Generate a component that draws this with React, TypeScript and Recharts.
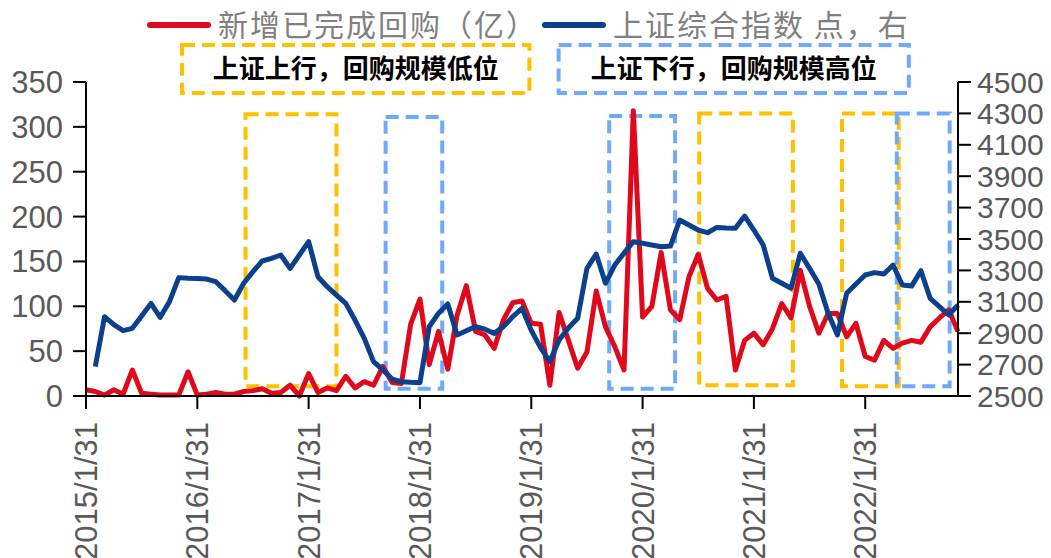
import React from 'react';
import { ComposedChart, Line, XAxis, YAxis, ReferenceArea, Legend } from 'recharts';

// ---- data ----
const tickIndex = [0, 12, 24, 36, 48, 60, 72, 84];
const tickLabels = ['2015/1/31', '2016/1/31', '2017/1/31', '2018/1/31', '2019/1/31', '2020/1/31', '2021/1/31', '2022/1/31'];

// 新增已完成回购（亿）, monthly from 2015/1
const buyback = [
  7, 5, 1, 7, 2, 29, 3, 2, 1, 1, 1, 27,
  1, 2, 4, 2, 2, 5, 6, 8, 3, 4, 12, 0,
  25, 4, 9, 6, 22, 9, 16, 12, 33, 15, 14, 80,
  108, 35, 72, 30, 90, 123, 72, 68, 53, 85, 104, 106,
  81, 80, 12, 93, 62, 31, 49, 117, 77, 55, 29, 318,
  88, 100, 160, 96, 85, 133, 158, 120, 107, 111, 29, 62,
  70, 57, 75, 103, 87, 140, 100, 70, 92, 92, 66, 81,
  44, 40, 62, 53, 59, 62, 60, 77, 87, 96, 72,
];

// 上证综合指数 点（右轴）
const shIndex: (number | null)[] = [
  null, 2687, 3005, 2954, 2916, 2931, 3010, 3090, 3001, 3101, 3254, 3250,
  3248, 3245, 3228, 3171, 3111, 3218, 3292, 3360, 3377, 3398, 3313, 3398,
  3483, 3260, 3196, 3143, 3090, 2984, 2867, 2719, 2666, 2608, 2591, 2587,
  2585, 2942, 3027, 3086, 2889, 2916, 2942, 2925, 2899, 2942, 3005, 3058,
  2918, 2808, 2719, 2857, 2933, 2995, 3313, 3404, 3218, 3334, 3410, 3483,
  3473, 3462, 3451, 3455, 3621, 3589, 3557, 3540, 3574, 3570, 3568, 3646,
  3557, 3462, 3250, 3218, 3186, 3409, 3313, 3213, 3027, 2889, 3154, 3213,
  3271, 3286, 3277, 3334, 3207, 3200, 3298, 3122, 3069, 3016, 3080,
];

const leftTicks = [0, 50, 100, 150, 200, 250, 300, 350];
const rightTicks = [2500, 2700, 2900, 3100, 3300, 3500, 3700, 3900, 4100, 4300, 4500];

const seriesNames = ['新增已完成回购（亿）', '上证综合指数 点，右'];
const annotationTexts = ['上证上行，回购规模低位', '上证下行，回购规模高位'];

const data = buyback.map((v, i) => ({ i, buyback: v, sh: shIndex[i] }));

// ---- styles ----
const RED = '#E0081B';
const BLUE = '#0C3F8C';
const YELLOW = '#FFC000';
const LBLUE = '#6FA9FC';
const AXIS_TEXT = '#595959';
const NUM_FONT = '"Liberation Sans", Arial, sans-serif';
const CJK_FONT = '"Noto Sans CJK SC", sans-serif';

// annotation boxes (in month-index / left-axis units)
const innerBoxes = [
  { x1: 17.2, x2: 27.0, y1: 11, y2: 314, color: YELLOW },
  { x1: 32.3, x2: 38.4, y1: 8, y2: 311, color: LBLUE },
  { x1: 56.4, x2: 63.5, y1: 8, y2: 312, color: LBLUE },
  { x1: 66.1, x2: 76.2, y1: 12, y2: 315, color: YELLOW },
  { x1: 81.5, x2: 87.6, y1: 11, y2: 315, color: YELLOW },
  { x1: 87.4, x2: 93.1, y1: 11, y2: 315, color: LBLUE },
];
const topBoxes = [
  { x1: 10.35, x2: 47.8, y1: 337.7, y2: 391.2, color: YELLOW, text: annotationTexts[0] },
  { x1: 50.95, x2: 88.7, y1: 337.7, y2: 391.2, color: LBLUE, text: annotationTexts[1] },
];

const XTick = (props: any) => {
  const { x, payload } = props;
  const label = tickLabels[tickIndex.indexOf(payload.value)];
  return (
    <text
      x={0}
      y={0}
      transform={`translate(${x},422) rotate(-90)`}
      textAnchor="end"
      dy="0.36em"
      fill={AXIS_TEXT}
      fontSize={31}
      fontFamily={NUM_FONT}
    >
      {label}
    </text>
  );
};

const AnnLabel = (props: any) => {
  const { viewBox, text } = props;
  if (!viewBox) return null;
  const cx = viewBox.x + viewBox.width / 2;
  const cy = viewBox.y + viewBox.height / 2;
  return (
    <text x={cx} y={cy} dy="0.36em" textAnchor="middle" fill="#000" fontSize={26} fontWeight={700} fontFamily={CJK_FONT}>
      {text}
    </text>
  );
};

const legendMarkerX = [150, 545];
const legendTextX = [218, 613];

const LegendContent = (props: any) => {
  const payload = [...(props.payload || [])].sort(
    (a: any, b: any) => seriesNames.indexOf(a.value) - seriesNames.indexOf(b.value)
  );
  return (
    <div style={{ position: 'relative', width: 1051, height: 50 }}>
      {payload.map((p: any, k: number) => (
        <React.Fragment key={k}>
          <svg style={{ position: 'absolute', left: legendMarkerX[k] - 3, top: 20 }} width={64} height={10}>
            <line x1={3} y1={5} x2={61} y2={5} stroke={p.color} strokeWidth={6} strokeLinecap="round" />
          </svg>
          <span
            style={{
              position: 'absolute',
              left: legendTextX[k],
              top: 6,
              lineHeight: '34px',
              fontSize: 30,
              letterSpacing: 2,
              fontFamily: CJK_FONT,
              color: '#808080',
              whiteSpace: 'nowrap',
            }}
          >
            {p.value}
          </span>
        </React.Fragment>
      ))}
    </div>
  );
};

export default function App() {
  return (
    <div style={{ position: 'absolute', left: 0, top: 0, width: 1051, height: 558, background: '#fff' }}>
      <ComposedChart width={1051} height={558} data={data} margin={{ top: 82, right: 0, bottom: 0, left: 0 }}>
        <XAxis
          dataKey="i"
          type="number"
          domain={[0, 94]}
          ticks={tickIndex}
          interval={0}
          height={162}
          tick={<XTick />}
          tickSize={13}
          axisLine={{ stroke: '#000', strokeWidth: 2 }}
          tickLine={{ stroke: '#000', strokeWidth: 2 }}
          allowDecimals={false}
        />
        <YAxis
          yAxisId="left"
          orientation="left"
          width={86}
          domain={[0, 350]}
          ticks={leftTicks}
          interval={0}
          tickSize={13}
          tickMargin={10}
          tick={{ fill: AXIS_TEXT, fontSize: 31, fontFamily: NUM_FONT }}
          axisLine={{ stroke: '#000', strokeWidth: 2 }}
          tickLine={{ stroke: '#000', strokeWidth: 2 }}
        />
        <YAxis
          yAxisId="right"
          orientation="right"
          width={93}
          domain={[2500, 4500]}
          ticks={rightTicks}
          interval={0}
          tickSize={13}
          tickMargin={6}
          tick={{ fill: AXIS_TEXT, fontSize: 30, fontFamily: NUM_FONT }}
          axisLine={{ stroke: '#000', strokeWidth: 2 }}
          tickLine={{ stroke: '#000', strokeWidth: 2 }}
        />
        <Legend
          verticalAlign="middle"
          align="center"
          layout="horizontal"
          content={<LegendContent />}
          wrapperStyle={{ position: 'absolute', top: 0, left: 0, width: 1051, height: 50 }}
        />
        {topBoxes.map((b, k) => (
          <ReferenceArea
            key={`t${k}`}
            yAxisId="left"
            x1={b.x1}
            x2={b.x2}
            y1={b.y1}
            y2={b.y2}
            ifOverflow="visible"
            fill="none"
            fillOpacity={0}
            stroke={b.color}
            strokeWidth={4}
            strokeDasharray="13 7"
            label={<AnnLabel text={b.text} />}
          />
        ))}
        {innerBoxes.map((b, k) => (
          <ReferenceArea
            key={`b${k}`}
            yAxisId="left"
            x1={b.x1}
            x2={b.x2}
            y1={b.y1}
            y2={b.y2}
            ifOverflow="visible"
            fill="none"
            fillOpacity={0}
            stroke={b.color}
            strokeWidth={4}
            strokeDasharray="13 7"
          />
        ))}
        <Line
          yAxisId="left"
          dataKey="buyback"
          name={seriesNames[0]}
          stroke={RED}
          strokeWidth={5}
          strokeLinejoin="round"
          dot={false}
          activeDot={false}
          isAnimationActive={false}
        />
        <Line
          yAxisId="right"
          dataKey="sh"
          name={seriesNames[1]}
          stroke={BLUE}
          strokeWidth={5}
          strokeLinejoin="round"
          dot={false}
          activeDot={false}
          isAnimationActive={false}
        />
      </ComposedChart>
    </div>
  );
}
